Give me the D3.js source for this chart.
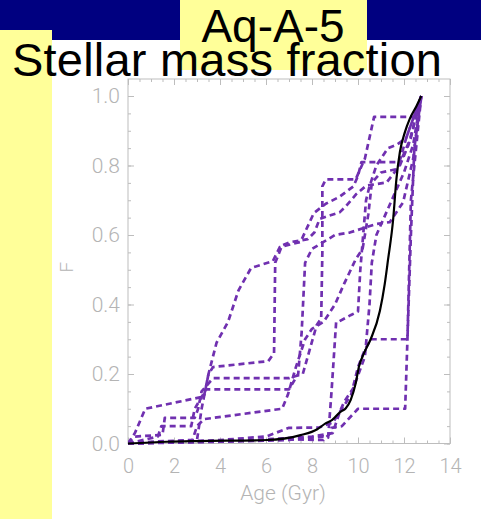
<!DOCTYPE html>
<html><head><meta charset="utf-8">
<script src="https://cdn.jsdelivr.net/npm/d3@7"></script>
<style>html,body{margin:0;padding:0;background:#fff;}svg{display:block;}</style>
</head><body>
<svg id="c" width="481" height="519"></svg>
<script>
const titleTop = "Aq-A-5";
const titleMain = "Stellar mass fraction";
const xLabel = "Age (Gyr)";
const yLabel = "F";
const xTicks = [0, 2, 4, 6, 8, 10, 12, 14];
const yTicks = [0.0, 0.2, 0.4, 0.6, 0.8, 1.0];

// black (solid) cumulative curve
const blackAge = [0, 1.7, 3.1, 6.05, 7.5, 8.23, 8.59, 8.88, 9.25, 9.46, 9.68, 9.9, 10.04, 10.26, 10.55, 10.95, 11.16, 11.3, 11.53, 11.67, 11.82, 12.04, 12.25, 12.55, 12.75];
const blackF   = [0, 0.005, 0.007, 0.01, 0.024, 0.041, 0.058, 0.068, 0.092, 0.101, 0.125, 0.173, 0.221, 0.26, 0.3, 0.381, 0.458, 0.526, 0.646, 0.761, 0.838, 0.896, 0.934, 0.972, 1.0];

// purple dashed curves (age, F)
const run1 = [[0,0],[0.3,0.03],[0.75,0.10],[3.3,0.135],[3.5,0.2],[3.85,0.29],[4.35,0.35],[4.8,0.44],[5.35,0.505],[6.3,0.525],[6.6,0.565],[7.5,0.58],[8.08,0.663],[8.6,0.69],[9.2,0.71],[9.8,0.74],[10.0,0.77],[10.15,0.81],[11.8,0.81],[12.1,0.88],[12.75,1.0]];
const run2 = [[0,0],[3,0.005],[7,0.012],[8.5,0.01],[8.8,0.03],[8.85,0.045],[9.3,0.05],[10.0,0.10],[12.05,0.10],[12.15,0.30],[12.3,0.7],[12.75,1.0]];
const run3 = [[0,0],[2,0.005],[4,0.01],[6,0.02],[7.0,0.045],[8.3,0.046],[8.9,0.06],[9.3,0.10],[9.7,0.14],[10.0,0.22],[10.3,0.27],[10.55,0.30],[12.15,0.30],[12.3,0.6],[12.45,0.85],[12.75,1.0]];
const run4 = [[0,0],[0.3,0.02],[1.5,0.025],[1.6,0.074],[2.9,0.074],[3.05,0.1],[3.2,0.15],[3.7,0.188],[7.0,0.188],[7.6,0.2],[7.9,0.27],[8.2,0.34],[8.4,0.36],[8.45,0.55],[8.45,0.74],[8.6,0.76],[9.9,0.76],[10.3,0.82],[10.7,0.94],[12.55,0.94],[12.75,1.0]];
const run5 = [[0,0],[1,0.005],[2.8,0.01],[3.0,0.05],[3.3,0.07],[6.7,0.10],[6.95,0.14],[7.3,0.22],[7.7,0.3],[8.0,0.33],[8.5,0.35],[9.0,0.40],[9.4,0.46],[9.9,0.53],[10.2,0.56],[10.45,0.66],[10.6,0.75],[11.0,0.78],[11.7,0.79],[12.3,0.88],[12.75,1.0]];
const run6 = [[0,0],[2,0.005],[3.0,0.01],[3.2,0.1],[3.5,0.2],[3.7,0.22],[6.1,0.237],[6.35,0.26],[6.4,0.52],[6.7,0.57],[7.02,0.579],[7.82,0.588],[8.11,0.608],[8.33,0.646],[8.76,0.656],[9.2,0.665],[9.49,0.684],[9.93,0.718],[10.36,0.742],[11.24,0.751],[11.82,0.80],[12.2,0.86],[12.75,1.0]];
const run7 = [[0,0],[1.3,0.02],[1.45,0.05],[2.75,0.05],[2.9,0.1],[3.4,0.156],[7.0,0.156],[7.4,0.2],[7.55,0.32],[7.7,0.52],[8.0,0.56],[9.0,0.60],[9.64,0.607],[10.8,0.632],[11.38,0.637],[11.96,0.694],[12.4,0.82],[12.75,1.0]];
const run8 = [[0,0],[4,0.005],[7,0.01],[8.5,0.02],[8.7,0.017],[8.85,0.15],[9.05,0.35],[9.2,0.352],[9.7,0.37],[10.0,0.38],[10.1,0.5],[10.35,0.7],[10.5,0.74],[10.8,0.80],[11.3,0.85],[11.7,0.86],[12.1,0.88],[12.75,1.0]];
const run9 = [[0,0],[5,0.008],[8,0.02],[8.9,0.03],[9.2,0.09],[9.4,0.12],[9.8,0.16],[10.3,0.25],[10.5,0.4],[10.6,0.52],[10.8,0.6],[11.2,0.66],[11.6,0.72],[12.0,0.78],[12.4,0.86],[12.75,1.0]];
const runs = [run1, run2, run3, run4, run5, run6, run7, run8, run9];

const svg = d3.select("#c");
const W = 481, H = 519;

// background decorations
svg.append("rect").attr("x",0).attr("y",0).attr("width",W).attr("height",40).attr("fill","#000080");
svg.append("rect").attr("x",180).attr("y",0).attr("width",187).attr("height",70).attr("fill","#ffff99");
svg.append("rect").attr("x",0).attr("y",30).attr("width",52).attr("height",H-30).attr("fill","#ffff99");

const L = 128, R = 450, T = 79, B = 443.5;
const x = d3.scaleLinear().domain([0,14]).range([L,R]);
const y = d3.scaleLinear().domain([0,1]).range([B,96]);
const yTopVal = y.invert(T);

const axisCol = "#bdbdbd";
const g = svg.append("g");
g.append("rect").attr("x",L).attr("y",T).attr("width",R-L).attr("height",B-T)
  .attr("fill","none").attr("stroke",axisCol).attr("stroke-width",1);

// ticks via d3 axes (inward)
const xMinor = d3.range(0, 14.01, 0.5);
const yMinor = d3.range(0, yTopVal, 0.05);
function styleAxis(sel){ sel.select(".domain").remove(); sel.selectAll("line").attr("stroke",axisCol); sel.selectAll("text").remove(); }
g.append("g").attr("transform",`translate(0,${B})`).call(d3.axisTop(x).tickValues(xMinor).tickSize(3)).call(styleAxis);
g.append("g").attr("transform",`translate(0,${B})`).call(d3.axisTop(x).tickValues(xTicks).tickSize(6)).call(styleAxis);
g.append("g").attr("transform",`translate(0,${T})`).call(d3.axisBottom(x).tickValues(xMinor).tickSize(3)).call(styleAxis);
g.append("g").attr("transform",`translate(0,${T})`).call(d3.axisBottom(x).tickValues(xTicks).tickSize(6)).call(styleAxis);
g.append("g").attr("transform",`translate(${L},0)`).call(d3.axisRight(y).tickValues(yMinor).tickSize(3)).call(styleAxis);
g.append("g").attr("transform",`translate(${L},0)`).call(d3.axisRight(y).tickValues(yTicks).tickSize(6)).call(styleAxis);
g.append("g").attr("transform",`translate(${R},0)`).call(d3.axisLeft(y).tickValues(yMinor).tickSize(3)).call(styleAxis);
g.append("g").attr("transform",`translate(${R},0)`).call(d3.axisLeft(y).tickValues(yTicks).tickSize(6)).call(styleAxis);

// tick labels
const labCol = "#b4b4b4";
const tf = "Roboto, 'Liberation Sans', sans-serif";
const xl = d3.axisBottom(x).tickValues(xTicks).tickSize(0).tickPadding(0).tickFormat(d3.format("d"));
const xg = g.append("g").attr("transform",`translate(0,${B})`).call(xl);
xg.select(".domain").remove();
xg.selectAll("text").attr("y",23).attr("dy","0.32em").attr("fill",labCol).attr("font-family",tf).attr("font-weight",300).attr("font-size",20);
const yl = d3.axisLeft(y).tickValues(yTicks).tickSize(0).tickPadding(0).tickFormat(d3.format(".1f"));
const yg = g.append("g").attr("transform",`translate(${L-8},0)`).call(yl);
yg.select(".domain").remove();
yg.selectAll("text").attr("fill",labCol).attr("font-family",tf).attr("font-weight",300).attr("font-size",21);

g.append("text").attr("x",(L+R)/2-6).attr("y",493).attr("dy","0.35em").attr("text-anchor","middle")
  .attr("fill",labCol).attr("font-family",tf).attr("font-weight",300).attr("font-size",21).text(xLabel);
g.append("text").attr("transform",`translate(66,${(T+B)/2+6}) rotate(-90)`).attr("text-anchor","middle").attr("dy","0.35em")
  .attr("fill",labCol).attr("font-family",tf).attr("font-weight",300).attr("font-size",19).text(yLabel);

// data
svg.append("clipPath").attr("id","clip").append("rect").attr("x",L).attr("y",T-4).attr("width",R-L).attr("height",B-T+6);
const pg = svg.append("g").attr("clip-path","url(#clip)");
const line = d3.line().x(d=>x(d[0])).y(d=>y(d[1]));
runs.forEach(r=>{
  pg.append("path").attr("d",line(r)).attr("fill","none").attr("stroke","#7030b0")
    .attr("stroke-width",2.7).attr("stroke-dasharray","6,4").attr("stroke-linejoin","round");
});
const blackPts = blackAge.map((a,i)=>[a, blackF[i]]);
pg.append("path").attr("d", d3.line().x(d=>x(d[0])).y(d=>y(d[1])).curve(d3.curveMonotoneX)(blackPts))
  .attr("fill","none").attr("stroke","#000").attr("stroke-width",2.2);

// titles
svg.append("text").attr("x",273).attr("y",42).attr("text-anchor","middle").attr("font-family","'Liberation Sans', Arial, sans-serif")
  .attr("font-size",46).attr("fill","#000").text(titleTop);
svg.append("text").attr("x",12).attr("y",76).attr("font-family","'Liberation Sans', Arial, sans-serif")
  .attr("font-size",47).attr("fill","#000").attr("textLength",430).text(titleMain);
</script>
</body></html>
